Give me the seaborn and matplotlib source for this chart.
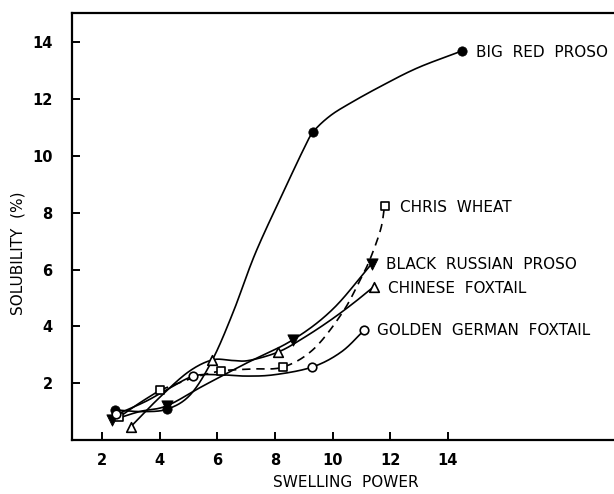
import numpy as np
import matplotlib
matplotlib.use('Agg')
import matplotlib.pyplot as plt
import seaborn as sns

# measured points (swelling power, solubility %)
big_red_x = [2.46, 4.27, 9.33, 14.5]
big_red_y = [1.06, 1.09, 10.85, 13.7]
chris_x = [2.6, 4.02, 6.14, 8.29, 11.8]
chris_y = [0.81, 1.76, 2.43, 2.57, 8.24]
black_x = [2.36, 4.24, 8.61, 11.35]
black_y = [0.7, 1.2, 3.52, 6.2]
chinese_x = [2.99, 5.83, 8.12, 11.42]
chinese_y = [0.46, 2.82, 3.1, 5.39]
golden_x = [2.5, 5.17, 9.3, 11.1]
golden_y = [0.9, 2.25, 2.57, 3.87]

# hand drawn curves
big_red_cx = [2.46, 3.4, 4.27, 5.07, 5.83, 6.55, 7.33, 8.37, 9.0, 9.33, 9.9, 10.6, 11.67, 12.95, 14.5]
big_red_cy = [1.06, 1.0, 1.09, 1.6, 2.82, 4.5, 6.6, 8.9, 10.25, 10.85, 11.4, 11.85, 12.45, 13.1, 13.7]
chris_solid_cx = [2.6, 3.3, 4.02]
chris_solid_cy = [0.81, 1.3, 1.76]
chris_dash_cx = [4.02, 5.2, 6.14, 7.2, 8.29, 9.34, 10.35, 10.97, 11.3, 11.67, 11.8]
chris_dash_cy = [1.76, 2.2, 2.43, 2.5, 2.57, 3.2, 4.5, 5.67, 6.37, 7.43, 8.24]
black_cx = [2.36, 3.3, 4.24, 5.5, 7.0, 8.61, 10.0, 11.35]
black_cy = [0.7, 1.0, 1.2, 1.9, 2.7, 3.52, 4.6, 6.2]
chinese_cx = [2.99, 4.0, 5.0, 5.83, 6.5, 7.1, 8.12, 9.0, 9.9, 10.7, 11.42]
chinese_cy = [0.46, 1.5, 2.4, 2.82, 2.8, 2.8, 3.1, 3.6, 4.2, 4.8, 5.39]
golden_cx = [2.5, 3.5, 4.3, 5.17, 6.0, 7.0, 8.0, 9.3, 10.3, 11.1]
golden_cy = [0.9, 1.35, 1.8, 2.25, 2.3, 2.25, 2.3, 2.57, 3.1, 3.87]

labels = ['BIG  RED  PROSO', 'CHRIS  WHEAT', 'BLACK  RUSSIAN  PROSO',
          'CHINESE  FOXTAIL', 'GOLDEN  GERMAN  FOXTAIL']
label_x = [14.97, 12.34, 11.85, 11.92, 11.54]
label_y = [13.63, 8.2, 6.16, 5.32, 3.84]

xticks = [2, 4, 6, 8, 10, 12, 14]
yticks = [2, 4, 6, 8, 10, 12, 14]


def smooth(xs, ys, n=24):
    # catmull-rom through the traced points, just for drawing
    p = np.column_stack([xs, ys]).astype(float)
    p = np.vstack([2 * p[0] - p[1], p, 2 * p[-1] - p[-2]])
    t = np.linspace(0, 1, n, endpoint=False)[:, None]
    out = []
    for i in range(1, len(p) - 2):
        p0, p1, p2, p3 = p[i - 1], p[i], p[i + 1], p[i + 2]
        out.append(0.5 * (2 * p1 + (-p0 + p2) * t
                          + (2 * p0 - 5 * p1 + 4 * p2 - p3) * t ** 2
                          + (-p0 + 3 * p1 - 3 * p2 + p3) * t ** 3))
    out.append(p[-2][None, :])
    out = np.vstack(out)
    return out[:, 0], out[:, 1]


sns.set_style('ticks')
plt.rcParams['font.family'] = ['DejaVu Sans']
plt.rcParams['text.color'] = 'black'
plt.rcParams['axes.labelcolor'] = 'black'
plt.rcParams['xtick.color'] = 'black'
plt.rcParams['ytick.color'] = 'black'
plt.rcParams['axes.edgecolor'] = 'black'

fig = plt.figure(figsize=(6.14, 4.94), dpi=100)
ax = fig.add_axes([0.1173, 0.1093, 0.8827, 0.8644])

lw = 1.2
for cx, cy in [(big_red_cx, big_red_cy), (chris_solid_cx, chris_solid_cy),
               (black_cx, black_cy), (chinese_cx, chinese_cy),
               (golden_cx, golden_cy)]:
    sx, sy = smooth(cx, cy)
    sns.lineplot(x=sx, y=sy, sort=False, estimator=None, color='black', lw=lw, ax=ax)

sx, sy = smooth(chris_dash_cx, chris_dash_cy)
sns.lineplot(x=sx, y=sy, sort=False, estimator=None, color='black', lw=lw,
             ax=ax).lines[-1].set_dashes([5, 3.5])

sns.scatterplot(x=big_red_x, y=big_red_y, marker='o', s=45, color='black',
                edgecolor='black', zorder=5, ax=ax)
sns.scatterplot(x=black_x, y=black_y, marker='v', s=65, color='black',
                edgecolor='black', zorder=5, ax=ax)
sns.scatterplot(x=chris_x, y=chris_y, marker='s', s=38, color='white',
                edgecolor='black', linewidth=1.2, zorder=6, ax=ax)
sns.scatterplot(x=chinese_x, y=chinese_y, marker='^', s=48, color='white',
                edgecolor='black', linewidth=1.2, zorder=6, ax=ax)
sns.scatterplot(x=golden_x, y=golden_y, marker='o', s=38, color='white',
                edgecolor='black', linewidth=1.2, zorder=6, ax=ax)

for lab, lx, ly in zip(labels, label_x, label_y):
    ax.text(lx, ly, lab, fontsize=11, ha='left', va='center')

ax.set_xlim(0.96, 19.76)
ax.set_ylim(0, 15.03)
ax.set_xticks(xticks)
ax.set_yticks(yticks)
ax.tick_params(direction='in', length=6, width=1.4, labelsize=10.5)
ax.tick_params(axis='y', pad=14)
ax.tick_params(axis='x', pad=9)
for t in ax.get_xticklabels() + ax.get_yticklabels():
    t.set_fontweight('bold')

for side in ['left', 'bottom', 'top']:
    ax.spines[side].set_linewidth(1.6)
ax.spines['right'].set_visible(False)

ax.set_xlabel('SWELLING  POWER', fontsize=11)
ax.set_ylabel('SOLUBILITY  (%)', fontsize=11)
ax.xaxis.set_label_coords(0.506, -0.082)
ax.yaxis.set_label_coords(-0.085, 0.438)

fig.savefig('out.png', dpi=100)
